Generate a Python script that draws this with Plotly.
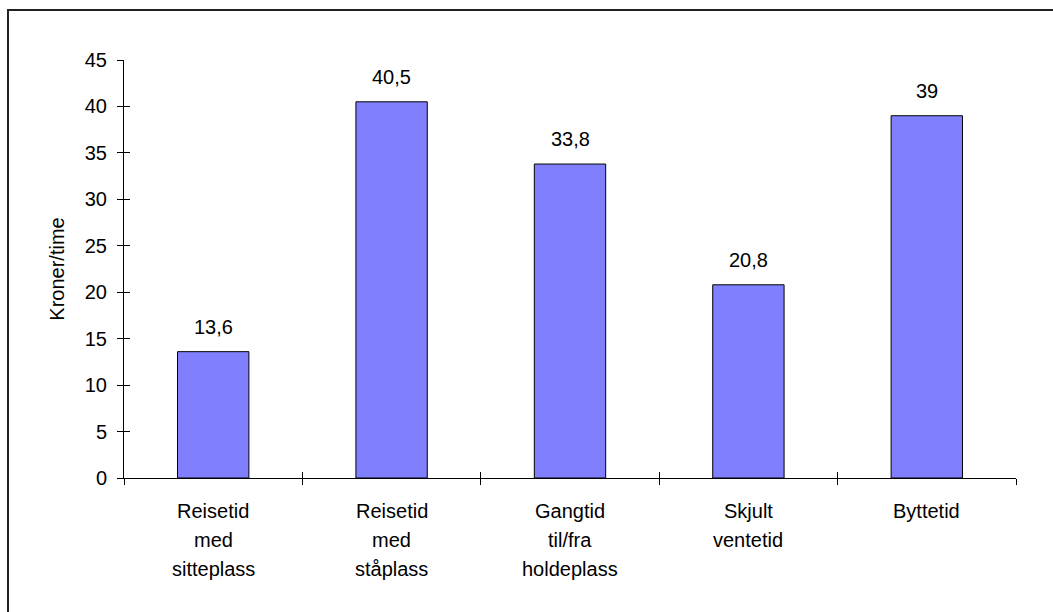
import plotly.graph_objects as go

categories = ["Reisetid<br>med<br>sitteplass", "Reisetid<br>med<br>ståplass",
              "Gangtid<br>til/fra<br>holdeplass", "Skjult<br>ventetid", "Byttetid"]
values = [13.6, 40.5, 33.8, 20.8, 39]
y_ticks = [0, 5, 10, 15, 20, 25, 30, 35, 40, 45]

W, H = 1053, 612
L, R, T, B = 124, 37, 60, 134
FONT = dict(family="Arial, Liberation Sans, sans-serif", size=20, color="black")
LINE_STEP = 29  # spacing between lines of the category labels (px)

labels = [f"{v:g}".replace(".", ",") for v in values]

fig = go.Figure()
fig.add_trace(go.Bar(
    x=categories, y=values, width=0.4,
    marker=dict(color="#8080FF", line=dict(color="black", width=1)),
    hoverinfo="skip", showlegend=False,
))
# helper trace so the overlay axes (inside half of the crossing ticks) render
fig.add_trace(go.Scatter(x=[0], y=[0], xaxis="x2", yaxis="y2", mode="markers",
                         marker=dict(opacity=0), hoverinfo="skip", showlegend=False))

# value labels above the bars
for c, v, t in zip(categories, values, labels):
    fig.add_annotation(x=c, y=v, text=t, showarrow=False, yanchor="bottom",
                       yshift=12, font=FONT)

# category labels, one annotation per line for wider line spacing
for c in categories:
    for i, line in enumerate(c.split("<br>")):
        fig.add_annotation(x=c, xref="x", y=0, yref="paper", text=line,
                           showarrow=False, yanchor="middle",
                           yshift=-33 - i * LINE_STEP, font=FONT)

pw = W - L - R
ph = H - T - B
# outer frame; right and bottom sides fall outside the page
fig.add_shape(type="rect", xref="paper", yref="paper",
              x0=(8 - L) / pw, x1=(W + 20 - L) / pw,
              y0=-(H + 20 - (H - B)) / ph, y1=(H - B - 10) / ph,
              line=dict(color="#222222", width=2), fillcolor="rgba(0,0,0,0)", layer="below")

fig.update_layout(
    width=W, height=H,
    margin=dict(l=L, r=R, t=T, b=B, autoexpand=False),
    paper_bgcolor="white", plot_bgcolor="white",
    font=FONT, bargap=0.6,
    xaxis=dict(type="category", showline=True, linecolor="black", linewidth=1,
               ticks="outside", ticklen=6, tickcolor="black", tickson="boundaries",
               showgrid=False, zeroline=False, showticklabels=False,
               range=[-0.5, 4.5]),
    yaxis=dict(range=[0, 45], tickvals=y_ticks, showline=True, linecolor="black",
               linewidth=1, ticks="outside", ticklen=6, tickcolor="black",
               showgrid=False, zeroline=False, ticklabelstandoff=6,
               title=dict(text="Kroner/time", standoff=14, font=FONT)),
    xaxis2=dict(overlaying="x", range=[0, 5], tickvals=[0, 1, 2, 3, 4, 5],
                ticks="inside", ticklen=6, tickcolor="black", showticklabels=False,
                showgrid=False, zeroline=False, showline=False),
    yaxis2=dict(overlaying="y", range=[0, 45], tickvals=y_ticks, ticks="inside",
                ticklen=6, tickcolor="black", showticklabels=False,
                showgrid=False, zeroline=False, showline=False),
)

fig.write_html("out.html")
